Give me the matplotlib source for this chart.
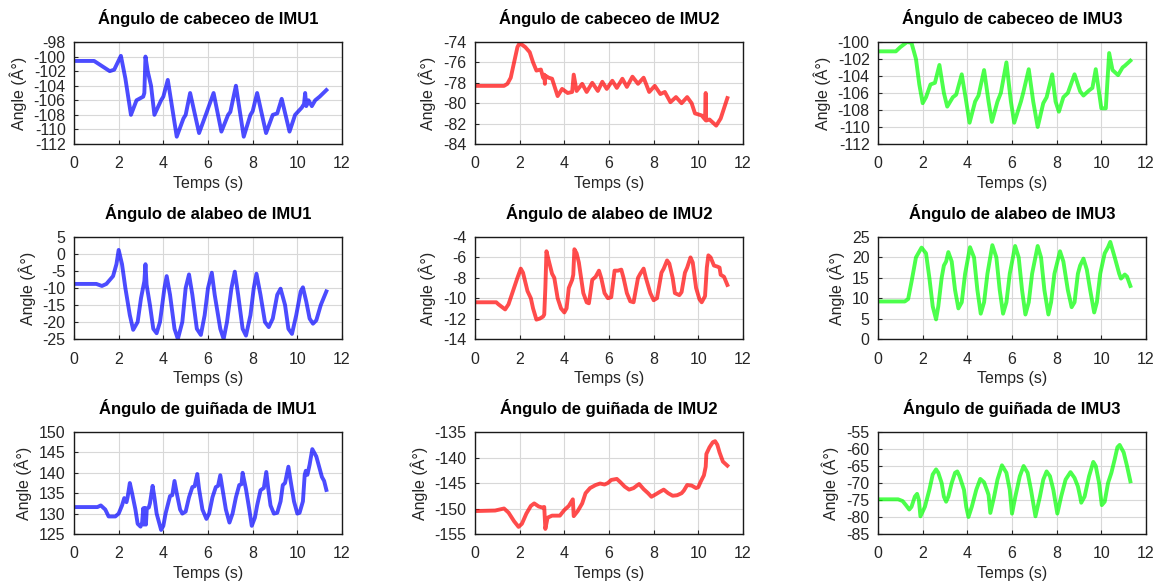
import matplotlib
matplotlib.use("Agg")
import matplotlib.pyplot as plt

plt.rcParams['font.family'] = ['Liberation Sans', 'DejaVu Sans']
plt.rcParams['axes.unicode_minus'] = False

# --- Ángulo de cabeceo ---
t_cab1 = [0, 0.9, 1.6, 1.8, 2.1, 2.3, 2.55, 2.8, 3.1, 3.15, 3.2, 3.3, 3.45, 3.6, 3.9, 4.0, 4.2, 4.6, 4.9, 5.0,
          5.2, 5.6, 5.9, 6.25, 6.6, 6.9, 7.0, 7.25, 7.6, 7.9, 8.0, 8.2, 8.6, 8.9, 9.1, 9.3, 9.65, 9.9, 10.2,
          10.3, 10.35, 10.4, 10.5, 10.65, 10.8, 11.0, 11.3]
cab1 = [-100.6, -100.6, -102, -101.8, -99.9, -103, -108, -106, -105.5, -105, -100, -102, -104, -108, -106,
        -105.5, -103.2, -111, -108.5, -108, -105, -110.5, -108, -105, -110.3, -108, -107.6, -104, -111, -108,
        -107.5, -105, -110.5, -108, -107.8, -105.8, -110.3, -108, -107, -106.5, -105, -106.8, -106, -106.8,
        -106, -105.5, -104.6]

t_cab2 = [0, 1.3, 1.45, 1.6, 1.75, 1.9, 2.0, 2.25, 2.45, 2.6, 2.75, 2.95, 3.05, 3.1, 3.13, 3.15, 3.3, 3.45,
          3.7, 3.9, 4.15, 4.35, 4.42, 4.55, 4.8, 5.0, 5.25, 5.5, 5.7, 5.9, 6.15, 6.35, 6.6, 6.8, 7.05, 7.3,
          7.55, 7.8, 8.05, 8.3, 8.5, 8.75, 9.0, 9.25, 9.5, 9.7, 9.85, 10.15, 10.3, 10.33, 10.35, 10.5, 10.8,
          11.0, 11.3]
cab2 = [-78.3, -78.3, -78.1, -77.5, -76, -74.5, -74.1, -74.5, -75, -76, -76.8, -76.7, -77.5, -77.2, -78.1,
        -77.3, -77.5, -77.6, -79.3, -78.6, -79, -78.9, -77.2, -78.8, -78.1, -78.9, -78, -78.8, -77.9, -78.6,
        -77.8, -78.5, -77.6, -78.4, -77.4, -78.1, -77.5, -78.9, -78.3, -79.1, -78.9, -79.9, -79.4, -80,
        -79.4, -80, -81, -81.2, -81.6, -79, -81.7, -81.6, -82.2, -81.5, -79.5]

t_cab3 = [0, 0.8, 1.0, 1.3, 1.5, 1.7, 1.85, 2.0, 2.15, 2.35, 2.55, 2.75, 2.95, 3.1, 3.35, 3.5, 3.75, 3.95,
          4.1, 4.35, 4.5, 4.75, 4.95, 5.1, 5.35, 5.5, 5.75, 5.95, 6.1, 6.4, 6.5, 6.75, 6.95, 7.15, 7.4, 7.55,
          7.8, 7.95, 8.1, 8.3, 8.5, 8.8, 9.05, 9.2, 9.45, 9.6, 9.75, 10.0, 10.2, 10.35, 10.5, 10.75, 10.95,
          11.05, 11.3]
cab3 = [-101.1, -101.1, -100.6, -100, -100.1, -102, -105, -107.2, -106.5, -105, -104.8, -102.7, -106, -107.6,
        -106.5, -106.2, -103.8, -107, -109.5, -107, -106.3, -103.3, -107, -109.4, -107, -106, -102.4, -107,
        -109.5, -107, -106, -103.2, -107, -110, -107.2, -106.5, -103.8, -107, -108.2, -106.5, -106, -103.8,
        -105.8, -106.3, -105.7, -105.4, -103.2, -107.8, -107.8, -101.3, -103.3, -103.9, -103, -102.8, -102.2]

# --- Ángulo de alabeo ---
t_ala1 = [0, 1.0, 1.25, 1.45, 1.75, 1.9, 2.0, 2.15, 2.3, 2.5, 2.65, 2.85, 3.0, 3.15, 3.2, 3.25, 3.4, 3.55,
          3.7, 3.85, 4.05, 4.15, 4.3, 4.5, 4.65, 4.85, 5.0, 5.15, 5.3, 5.5, 5.68, 5.85, 6.0, 6.17, 6.3, 6.55,
          6.7, 6.85, 7.05, 7.2, 7.35, 7.55, 7.7, 7.9, 8.05, 8.17, 8.35, 8.55, 8.72, 8.9, 9.1, 9.25, 9.45, 9.6,
          9.76, 9.95, 10.15, 10.25, 10.4, 10.55, 10.7, 10.85, 11.05, 11.3]
ala1 = [-8.8, -8.8, -9.4, -8.8, -6.5, -3, 1.2, -3, -10, -18, -22.3, -20, -13, -8, -3, -9, -15, -22, -23.3,
        -20, -10, -6.5, -12, -22, -25, -20, -10, -6, -12, -22, -23.8, -18, -10, -5.5, -12, -22, -25, -20,
        -10, -5.2, -12, -22, -24, -18, -10, -5.8, -12, -20, -21.5, -19, -12, -10.2, -15, -22, -23.5, -18,
        -11, -9.8, -14, -19, -20.5, -19.5, -15, -11]

t_ala2 = [0, 0.95, 1.05, 1.35, 1.5, 1.7, 1.9, 2.05, 2.15, 2.35, 2.5, 2.6, 2.75, 2.9, 3.05, 3.1, 3.15, 3.2,
          3.3, 3.45, 3.55, 3.7, 3.85, 4.0, 4.1, 4.2, 4.35, 4.4, 4.45, 4.55, 4.65, 4.75, 4.85, 5.0, 5.1, 5.25,
          5.4, 5.55, 5.65, 5.8, 5.95, 6.1, 6.25, 6.4, 6.55, 6.65, 6.8, 6.95, 7.1, 7.3, 7.4, 7.55, 7.65, 7.85,
          8.0, 8.15, 8.35, 8.45, 8.6, 8.7, 8.85, 8.95, 9.15, 9.25, 9.4, 9.5, 9.65, 9.75, 9.9, 10.05, 10.15,
          10.3, 10.38, 10.45, 10.55, 10.7, 10.85, 10.95, 11.0, 11.15, 11.3]
ala2 = [-10.4, -10.4, -10.6, -11.1, -10.6, -9.3, -8, -7.1, -7.5, -9.3, -10, -11, -12.1, -12, -11.8, -11.6,
        -9, -5.4, -6.3, -7.6, -8, -10, -11, -11.4, -11, -9, -8.2, -7.7, -5.2, -5.6, -6.5, -8, -9.5, -10.4,
        -10.5, -8.2, -7.9, -7.3, -8, -9.5, -10, -9.9, -7.3, -7.3, -7.2, -8, -9.5, -10.3, -10.4, -8, -7.6,
        -7.1, -8, -9.5, -10.2, -10, -7.5, -7.1, -6.3, -6.6, -8, -9.5, -9.7, -9.4, -7.5, -7, -6, -6.5, -9,
        -10.1, -10.4, -9.8, -7, -5.8, -6, -6.8, -6.9, -7.0, -7.7, -7.9, -8.7]

t_ala3 = [0, 1.2, 1.35, 1.5, 1.7, 1.95, 2.15, 2.3, 2.45, 2.6, 2.7, 2.85, 2.95, 3.05, 3.15, 3.3, 3.45, 3.6,
          3.75, 3.9, 4.12, 4.3, 4.45, 4.6, 4.75, 4.9, 5.12, 5.3, 5.45, 5.6, 5.75, 5.9, 6.14, 6.3, 6.45, 6.6,
          6.75, 6.9, 7.15, 7.3, 7.45, 7.63, 7.75, 7.9, 8.15, 8.3, 8.5, 8.67, 8.8, 8.95, 9.05, 9.2, 9.35, 9.5,
          9.68, 9.8, 9.95, 10.15, 10.3, 10.4, 10.6, 10.8, 10.88, 11.05, 11.15, 11.3]
ala3 = [9.2, 9.2, 9.8, 14, 20, 22.4, 21, 15, 8, 4.8, 8, 15, 18, 19, 21.3, 19, 12, 7.5, 9, 16, 22.5, 20, 12,
        6.2, 9, 16, 23, 20, 12, 6.2, 9, 16, 22.8, 20, 12, 6, 9, 16, 22.8, 20, 12, 6, 9, 16, 21.5, 19, 12,
        7.8, 9, 16, 18, 19.7, 17, 12, 6.5, 9, 16, 21, 22.5, 23.8, 20, 16, 14.8, 15.8, 15.3, 13]

# --- Ángulo de guiñada ---
t_gui1 = [0, 1.05, 1.2, 1.4, 1.55, 1.85, 2.0, 2.15, 2.25, 2.35, 2.4, 2.5, 2.6, 2.75, 2.85, 2.98, 3.05, 3.1,
          3.13, 3.18, 3.22, 3.26, 3.35, 3.4, 3.52, 3.6, 3.7, 3.9, 4.0, 4.1, 4.3, 4.4, 4.5, 4.6, 4.75, 4.85,
          5.0, 5.15, 5.3, 5.4, 5.52, 5.6, 5.75, 5.93, 6.05, 6.2, 6.35, 6.45, 6.55, 6.65, 6.8, 6.96, 7.1, 7.25,
          7.4, 7.5, 7.55, 7.7, 7.85, 7.96, 8.1, 8.2, 8.35, 8.5, 8.61, 8.7, 8.8, 8.95, 9.1, 9.25, 9.35, 9.45,
          9.6, 9.7, 9.85, 10.0, 10.1, 10.25, 10.33, 10.38, 10.45, 10.55, 10.67, 10.85, 11.0, 11.1, 11.2, 11.3]
gui1 = [131.6, 131.6, 132, 131, 129.3, 129.3, 130, 132, 133.8, 132.8, 134, 137.5, 135, 131, 127.5, 126.8,
        127.8, 131.3, 127.3, 131.4, 127.3, 131.2, 131.5, 132.5, 136.8, 134, 130, 126, 127, 130, 134.3, 134.5,
        138, 135, 131, 130, 130.5, 134, 136.5, 136.7, 139.7, 136, 131, 128.7, 130, 134, 136.5, 136.8, 139.4,
        136, 131, 127.8, 130, 134, 137, 137.2, 140, 136, 131, 127, 129, 132, 135.7, 136.3, 140.2, 136, 132,
        130, 130.2, 133, 137, 137.5, 141.5, 138, 133, 130, 130.2, 133, 139.5, 140.5, 139.5, 142, 145.8, 144,
        141, 139, 138, 135.8]

t_gui2 = [0, 0.9, 1.2, 1.3, 1.5, 1.75, 1.95, 2.1, 2.3, 2.5, 2.65, 2.85, 3.0, 3.1, 3.15, 3.25, 3.45, 3.8, 4.0,
          4.2, 4.38, 4.42, 4.6, 4.8, 4.95, 5.15, 5.4, 5.6, 5.8, 5.95, 6.1, 6.35, 6.5, 6.7, 6.9, 7.1, 7.25,
          7.35, 7.55, 7.75, 7.9, 8.1, 8.25, 8.45, 8.65, 8.85, 9.05, 9.25, 9.35, 9.5, 9.7, 9.9, 10.0, 10.1,
          10.25, 10.33, 10.36, 10.5, 10.65, 10.75, 10.85, 10.95, 11.1, 11.3]
gui2 = [-150.5, -150.4, -150.1, -150, -150.8, -152.5, -153.6, -153, -151, -149.5, -149, -149.6, -149.8,
        -149.7, -154, -151.8, -151.4, -151.4, -150.3, -149.5, -148.2, -151.5, -150.5, -149, -147, -146,
        -145.4, -145.1, -145.3, -145, -144.4, -144.2, -144.8, -145.7, -146.3, -146, -145.5, -145.2, -146.2,
        -147, -147.7, -147.2, -146.8, -146.3, -147, -147.5, -147.4, -147, -146.5, -145.4, -145.5, -146,
        -145.8, -144.8, -143.5, -141.8, -139.3, -138, -137, -136.8, -137.5, -139, -140.8, -141.6]

t_gui3 = [0, 0.9, 1.1, 1.25, 1.4, 1.5, 1.65, 1.75, 1.83, 1.9, 2.1, 2.3, 2.45, 2.6, 2.7, 2.85, 2.95, 3.05,
          3.15, 3.3, 3.45, 3.55, 3.65, 3.85, 3.95, 4.05, 4.2, 4.4, 4.58, 4.75, 4.9, 4.95, 5.03, 5.2, 5.35,
          5.55, 5.75, 5.9, 6.0, 6.15, 6.35, 6.52, 6.7, 6.85, 7.05, 7.25, 7.4, 7.55, 7.7, 7.85, 8.03, 8.2, 8.4,
          8.62, 8.8, 8.95, 9.05, 9.1, 9.25, 9.45, 9.64, 9.75, 9.9, 10.02, 10.15, 10.3, 10.45, 10.6, 10.72,
          10.82, 11.0, 11.15, 11.3]
gui3 = [-74.8, -74.8, -75.3, -76.5, -77.8, -77, -74, -73.2, -75, -79.8, -77, -72, -67.5, -66, -67, -70, -74,
        -75.5, -74, -70, -67, -66.6, -68, -72, -77, -80, -77, -72, -68.8, -69.8, -72.5, -73.5, -78.8, -74,
        -69, -64.8, -67, -72, -79, -74, -68, -65, -67, -72, -79.8, -74, -69, -66.6, -68, -72, -79, -74, -69,
        -66.8, -68.5, -71, -74, -75.8, -74, -68, -63.8, -65, -70, -76.5, -75.5, -70, -67, -63, -59.5, -58.8,
        -61, -65, -69.5]

titres = ["Ángulo de cabeceo de IMU1", "Ángulo de cabeceo de IMU2", "Ángulo de cabeceo de IMU3",
          "Ángulo de alabeo de IMU1", "Ángulo de alabeo de IMU2", "Ángulo de alabeo de IMU3",
          "Ángulo de guiñada de IMU1", "Ángulo de guiñada de IMU2", "Ángulo de guiñada de IMU3"]
series = [(t_cab1, cab1), (t_cab2, cab2), (t_cab3, cab3),
          (t_ala1, ala1), (t_ala2, ala2), (t_ala3, ala3),
          (t_gui1, gui1), (t_gui2, gui2), (t_gui3, gui3)]
limites_y = [(-112, -98, 2), (-84, -74, 2), (-112, -100, 2),
             (-25, 5, 5), (-14, -4, 2), (0, 25, 5),
             (125, 150, 5), (-155, -135, 5), (-85, -55, 5)]
couleurs = ['#0000ff', '#ff0000', '#00ff00']

W, H = 1158, 583
gauche = [74, 475, 878]
haut = [42, 237, 432]
larg, haut_ax = 268, 102

fig = plt.figure(figsize=(W / 100, H / 100), dpi=100)
for i in range(9):
    lig, col = divmod(i, 3)
    ax = fig.add_axes([gauche[col] / W, 1 - (haut[lig] + haut_ax) / H, larg / W, haut_ax / H])
    t, v = series[i]
    ax.plot(t, v, color=couleurs[col], lw=2.8, alpha=0.7, solid_joinstyle='round')
    y0, y1, pas = limites_y[i]
    ax.set_xlim(0, 12)
    ax.set_ylim(y0, y1)
    ax.set_xticks(range(0, 13, 2))
    ax.set_yticks(range(y0, y1 + 1, pas))
    ax.grid(True, color='#d8d8d8', lw=0.8)
    ax.set_axisbelow(True)
    ax.tick_params(direction='in', length=3, labelsize=11.5, colors='#262626')
    ax.tick_params(axis='x', pad=9)
    ax.tick_params(axis='y', pad=6)
    for s in ax.spines.values():
        s.set_color('#1a1a1a')
        s.set_linewidth(1.0)
    ax.set_title(titres[i], fontsize=12, fontweight='bold', pad=13)
    ax.set_xlabel('Temps (s)', fontsize=11.5, color='#262626', labelpad=3)
    ax.set_ylabel('Angle (Â°)', fontsize=11.5, color='#262626', labelpad=5)

fig.savefig('out.png', dpi=100)
